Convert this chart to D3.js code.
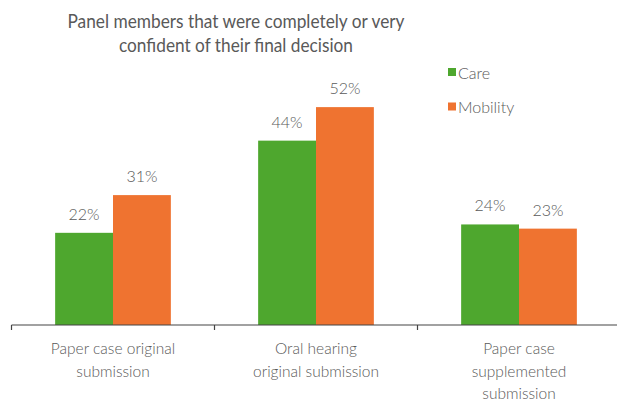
<!DOCTYPE html>
<html>
<head>
<meta charset="utf-8">
<script src="https://cdn.jsdelivr.net/npm/d3@7"></script>
<style>
  body { margin: 0; background: #fff; }
  svg { display: block; font-family: Lato, "Open Sans", sans-serif; }
</style>
</head>
<body>
<div id="chart"></div>
<script>
// chart data
const categories = [
  ["Paper case original", "submission"],
  ["Oral hearing", "original submission"],
  ["Paper case", "supplemented", "submission"]
];
const seriesNames = ["Care", "Mobility"];
const care = [0.22, 0.44, 0.24];
const mobility = [0.31, 0.52, 0.23];
const colors = ["#4ea72e", "#ef7330"];
const titleLines = ["Panel members that were completely or very", "confident of their final decision"];

const width = 617, height = 403;
const baseY = 325;

const svg = d3.select("#chart").append("svg")
    .attr("width", width)
    .attr("height", height);

const x0 = d3.scaleBand()
    .domain(d3.range(categories.length))
    .range([11.5, 620.5])
    .paddingInner(0.43)
    .paddingOuter(0.215);

const x1 = d3.scaleBand()
    .domain(seriesNames)
    .range([0, x0.bandwidth()]);

const y = d3.scaleLinear()
    .domain([0, 0.6])
    .range([baseY, baseY - 0.6 * 419]);

const rows = categories.map((c, i) => ({i, values: [care[i], mobility[i]]}));

// bars
const group = svg.append("g")
  .selectAll("g")
  .data(rows)
  .join("g")
    .attr("transform", d => `translate(${x0(d.i)},0)`);

group.selectAll("rect")
  .data(d => d.values.map((v, k) => ({k, v})))
  .join("rect")
    .attr("x", d => x1(seriesNames[d.k]))
    .attr("y", d => y(d.v))
    .attr("width", x1.bandwidth())
    .attr("height", d => baseY - y(d.v))
    .attr("fill", d => colors[d.k]);

group.selectAll("text.val")
  .data(d => d.values.map((v, k) => ({k, v})))
  .join("text")
    .attr("class", "val")
    .attr("x", d => x1(seriesNames[d.k]) + x1.bandwidth() / 2)
    .attr("y", d => y(d.v) - 13)
    .attr("text-anchor", "middle")
    .attr("font-size", 16)
    .attr("font-weight", 300)
    .attr("fill", "#595959")
    .text(d => d3.format(".0%")(d.v));

// x axis
const ticks = d3.range(categories.length).map(i => x0(i) - x0.step() * x0.paddingInner() / 2);
const axis = svg.append("g").attr("stroke", "#444").attr("stroke-width", 1.2);
axis.append("line")
    .attr("x1", 11.5).attr("x2", width)
    .attr("y1", baseY).attr("y2", baseY);
axis.selectAll("line.tick")
  .data(ticks)
  .join("line")
    .attr("class", "tick")
    .attr("x1", d => d).attr("x2", d => d)
    .attr("y1", baseY).attr("y2", baseY + 5);

const catLabel = svg.append("g")
  .selectAll("text")
  .data(categories)
  .join("text")
    .attr("x", (d, i) => x0(i) + x0.bandwidth() / 2)
    .attr("y", 354)
    .attr("text-anchor", "middle")
    .attr("font-size", 15.5)
    .attr("font-weight", 300)
    .attr("fill", "#595959");
catLabel.selectAll("tspan")
  .data(d => d)
  .join("tspan")
    .attr("x", function() { return this.parentNode.getAttribute("x"); })
    .attr("dy", (d, j) => j === 0 ? 0 : 22.5)
    .text(d => d);

// title
const title = svg.append("text")
    .attr("x", 236)
    .attr("y", 28)
    .attr("text-anchor", "middle")
    .attr("font-size", 20)
    .attr("fill", "#595959");
title.selectAll("tspan")
  .data(titleLines)
  .join("tspan")
    .attr("x", 236)
    .attr("dy", (d, j) => j === 0 ? 0 : 24)
    .attr("textLength", (d, j) => j === 0 ? 337 : 234)
    .attr("lengthAdjust", "spacingAndGlyphs")
    .text(d => d);

// legend
const legend = svg.append("g")
  .selectAll("g")
  .data(seriesNames)
  .join("g")
    .attr("transform", (d, i) => `translate(448,${68 + i * 34.5})`);
legend.append("rect")
    .attr("width", 8).attr("height", 8)
    .attr("fill", (d, i) => colors[i]);
legend.append("text")
    .attr("x", 10)
    .attr("y", 10.5)
    .attr("font-size", 16)
    .attr("font-weight", 300)
    .attr("fill", "#595959")
    .text(d => d);
</script>
</body>
</html>
